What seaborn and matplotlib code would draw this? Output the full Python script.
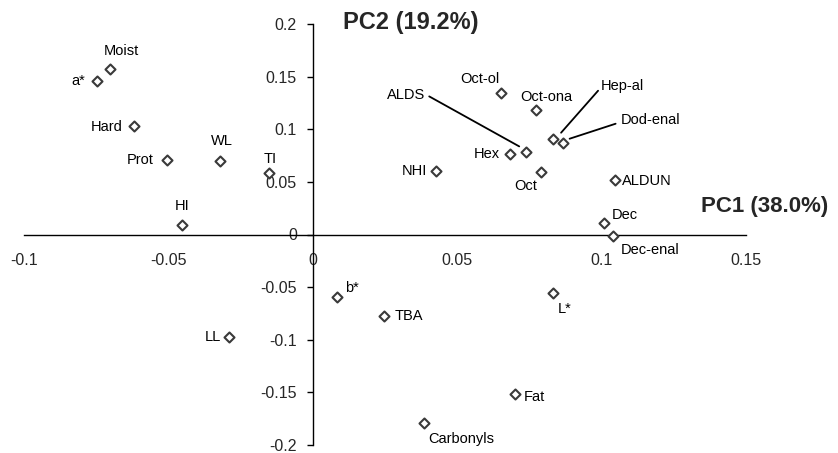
import matplotlib
matplotlib.use("Agg")
import matplotlib.pyplot as plt
from matplotlib.transforms import offset_copy
import seaborn as sns
import pandas as pd

# ---- data ----
names = ["a*", "Moist", "Hard", "Prot", "WL", "TI", "HI", "LL", "b*", "TBA",
         "NHI", "Oct-ol", "Oct-ona", "Hep-al", "Dod-enal", "ALDS", "Hex", "Oct",
         "ALDUN", "Dec", "Dec-enal", "L*", "Fat", "Carbonyls"]
pc1 = [-0.0748, -0.0702, -0.0618, -0.0506, -0.0323, -0.0153, -0.0453, -0.0290, 0.0083, 0.0247,
       0.0427, 0.0651, 0.0772, 0.0832, 0.0865, 0.0739, 0.0682, 0.0791,
       0.1045, 0.1008, 0.1040, 0.0832, 0.0701, 0.0385]
pc2 = [0.146, 0.157, 0.103, 0.0711, 0.0695, 0.0588, 0.0087, -0.097, -0.059, -0.077,
       0.060, 0.134, 0.1184, 0.091, 0.0872, 0.078, 0.0765, 0.0591,
       0.0522, 0.0112, -0.0017, -0.0553, -0.1518, -0.179]
xticks = [-0.1, -0.05, 0, 0.05, 0.1, 0.15]
xticklabels = ["-0.1", "-0.05", "0", "0.05", "0.1", "0.15"]
yticks = [-0.2, -0.15, -0.1, -0.05, 0, 0.05, 0.1, 0.15, 0.2]
yticklabels = ["-0.2", "-0.15", "-0.1", "-0.05", "0", "0.05", "0.1", "0.15", "0.2"]
xlabel = "PC1 (38.0%)"
ylabel = "PC2 (19.2%)"

df = pd.DataFrame({"name": names, "PC1": pc1, "PC2": pc2})

# label placement (offset in pixels from marker, ha, va, leader line)
offsets = {
    "a*": (-12, 0, "right", "center", False),
    "Moist": (11, 18, "center", "center", False),
    "Hard": (-12, -1, "right", "center", False),
    "Prot": (-13, 0, "right", "center", False),
    "WL": (2, 20, "center", "center", False),
    "TI": (2, 14, "center", "center", False),
    "HI": (0, 19, "center", "center", False),
    "LL": (-8, 0, "right", "center", False),
    "b*": (8, 9, "left", "center", False),
    "TBA": (10, 0, "left", "center", False),
    "NHI": (-9, 0, "right", "center", False),
    "Oct-ol": (-21, 14, "center", "center", False),
    "Oct-ona": (11, 13, "center", "center", False),
    "Hep-al": (48, 53, "left", "center", True),
    "Dod-enal": (58, 23, "left", "center", True),
    "ALDS": (-101, 57, "right", "center", True),
    "Hex": (-10, 0, "right", "center", False),
    "Oct": (-16, -14, "center", "center", False),
    "ALDUN": (7, -1, "left", "center", False),
    "Dec": (8, 8, "left", "center", False),
    "Dec-enal": (8, -14, "left", "center", False),
    "L*": (5, -16, "left", "center", False),
    "Fat": (9, -3, "left", "center", False),
    "Carbonyls": (4, -16, "left", "center", False),
}
leader_start = {"Hep-al": (45, 48), "Dod-enal": (53, 19), "ALDS": (-97, 56)}
leader_end = {"Hep-al": (8, 6), "Dod-enal": (7, 4), "ALDS": (-7, 6)}

sns.set_style("white")
plt.rcParams["font.family"] = ["Liberation Sans", "DejaVu Sans"]
plt.rcParams["axes.unicode_minus"] = False

fig = plt.figure(figsize=(8.38, 4.53), dpi=100)
ax = fig.add_axes([24 / 838, 8 / 453, 722 / 838, 421 / 453])

sns.scatterplot(data=df, x="PC1", y="PC2", ax=ax, marker="D", s=26,
                facecolor="white", edgecolor="#3a3a3a", linewidth=1.5, zorder=3)

ax.set_xlim(-0.1, 0.15)
ax.set_ylim(-0.2, 0.2)
ax.spines["left"].set_position(("data", 0))
ax.spines["bottom"].set_position(("data", 0))
ax.spines["top"].set_visible(False)
ax.spines["right"].set_visible(False)
for s in ("left", "bottom"):
    ax.spines[s].set_color("black")
    ax.spines[s].set_linewidth(1.0)
ax.set_xticks(xticks)
ax.set_xticklabels(xticklabels)
ax.set_yticks(yticks)
ax.set_yticklabels(yticklabels)
ax.tick_params(axis="x", direction="in", length=4.5, width=1.0, pad=13,
               labelsize=11.5, color="black")
ax.tick_params(axis="y", direction="out", length=4.5, width=1.0, pad=7,
               labelsize=11.5, color="black", left=True)
ax.set_xlabel("")
ax.set_ylabel("")
ax.set_facecolor("white")

inv = fig.transFigure.inverted()
for n, x, y in zip(names, pc1, pc2):
    dx, dy, ha, va, lead = offsets[n]
    ax.annotate(n, (x, y), xytext=(dx, dy), textcoords="offset pixels",
                ha=ha, va=va, fontsize=10.5, color="black", annotation_clip=False)
    if lead:
        sx, sy = leader_start[n]
        ex, ey = leader_end[n]
        t1 = offset_copy(ax.transData, fig=fig, x=sx, y=sy, units="dots")
        t2 = offset_copy(ax.transData, fig=fig, x=ex, y=ey, units="dots")
        f1 = inv.transform(t1.transform((x, y)))
        f2 = inv.transform(t2.transform((x, y)))
        fig.add_artist(plt.Line2D([f1[0], f2[0]], [f1[1], f2[1]],
                                  transform=fig.transFigure, color="black", linewidth=1.3))

ax.text(0.1343, 0.027, xlabel, fontsize=16, fontweight="bold", ha="left", va="center")
ax.text(0.0104, 0.201, ylabel, fontsize=17, fontweight="bold", ha="left", va="center")

fig.savefig("out.png", dpi=100, facecolor="white")
